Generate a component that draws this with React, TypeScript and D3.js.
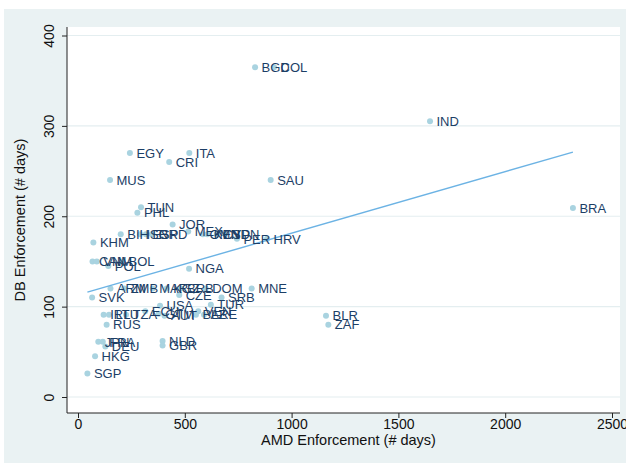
import React, { useEffect, useRef } from "react";
import * as d3 from "d3";

// country codes and the two enforcement measures (days)
const codes = [
  "BGD", "COL", "IND", "ITA", "EGY", "CRI", "MUS", "SAU", "BRA",
  "TUN", "PHL", "JOR", "BIH", "ISR", "ESP", "GRD", "MEX", "OMN", "KEN", "CYP", "SDN",
  "PER", "HRV", "KHM", "CAN", "VNM", "BOL", "POL", "NGA",
  "ARM", "ZMB", "MAR", "KGZ", "BRB", "DOM", "MNE", "CZE", "SRB", "SVK",
  "USA", "TUR", "VEN", "IRL", "LTU", "TZA", "ECU", "GTM", "AUT", "BLZ", "ARE", "RUS",
  "BLR", "ZAF", "NLD", "GBR", "JPN", "FRA", "DEU", "HKG", "SGP",
];
const amd = [
  829, 918, 1648, 521, 243, 427, 150, 902, 2317,
  295, 278, 443, 200, 290, 318, 346, 516, 585, 605, 650, 690,
  744, 885, 72, 68, 88, 206, 142, 520,
  152, 216, 350, 415, 480, 598, 813, 474, 672, 66,
  384, 622, 563, 120, 145, 225, 315, 378, 405, 552, 590, 134,
  1161, 1172, 396, 396, 95, 116, 128, 80, 44,
];
const db = [
  365, 365, 305, 270, 270, 260, 240, 240, 209,
  210, 204, 191, 180, 180, 180, 180, 183, 180, 180, 180, 180,
  175, 175, 171, 150, 150, 150, 145, 142,
  120, 120, 120, 120, 120, 120, 120, 113, 110, 110,
  101, 102, 95, 91, 91, 91, 95, 92, 90, 91, 91, 80,
  90, 80, 62, 57, 61, 61, 56, 45, 26,
];

// fitted line end points
const fitX = [44, 2317];
const fitY = [116, 271];

const xTicks = [0, 500, 1000, 1500, 2000, 2500];
const yTicks = [0, 100, 200, 300, 400];

export default function App() {
  const ref = useRef<SVGSVGElement>(null);

  useEffect(() => {
    const svg = d3.select(ref.current);
    svg.selectAll("*").remove();

    const W = 626, H = 466;
    const left = 67, right = 620, top = 27, bottom = 413;
    const font = "Liberation Sans, Arial, sans-serif";

    const x = d3.scaleLinear().domain([0, 2500]).range([78, 612]);
    const y = d3.scaleLinear().domain([0, 400]).range([397, 35.5]);

    // outer background + plot area
    svg.append("rect").attr("x", 4).attr("y", 9).attr("width", W - 4).attr("height", H - 12)
      .attr("fill", "#eaf2f3");
    svg.append("rect").attr("x", left).attr("y", top).attr("width", right - left)
      .attr("height", bottom - top).attr("fill", "#ffffff");

    // grid lines
    svg.selectAll(".grid").data(yTicks).join("line")
      .attr("x1", left).attr("x2", right)
      .attr("y1", (d) => y(d)).attr("y2", (d) => y(d))
      .attr("stroke", "#e4eef0").attr("stroke-width", 1.2);

    // y axis
    const yAxis = svg.append("g").attr("transform", `translate(${left},0)`)
      .call(d3.axisLeft(y).tickValues(yTicks).tickSize(5).tickSizeOuter(0).tickFormat(d3.format("d")));
    yAxis.select(".domain").attr("d", `M0,${top}V${bottom}`).attr("stroke", "#222");
    yAxis.selectAll(".tick line").attr("stroke", "#222");
    yAxis.selectAll(".tick text")
      .attr("transform", "rotate(-90)")
      .attr("x", 0).attr("y", -13)
      .attr("dy", 0)
      .attr("text-anchor", "middle")
      .attr("font-family", font)
      .attr("font-size", 14).attr("fill", "#111");

    // x axis
    const xAxis = svg.append("g").attr("transform", `translate(0,${bottom})`)
      .call(d3.axisBottom(x).tickValues(xTicks).tickSize(5).tickSizeOuter(0).tickFormat(d3.format("d")));
    xAxis.select(".domain").attr("d", `M${left},0H${right}`).attr("stroke", "#222");
    xAxis.selectAll(".tick line").attr("stroke", "#222");
    xAxis.selectAll(".tick text")
      .attr("y", 6).attr("dy", "0.71em")
      .attr("font-family", font)
      .attr("font-size", 14).attr("fill", "#111");

    // axis titles
    svg.append("text").attr("x", (left + right) / 2 + 5).attr("y", 445)
      .attr("text-anchor", "middle")
      .attr("font-family", font).attr("font-size", 14.5)
      .attr("fill", "#111").text("AMD Enforcement (# days)");
    svg.append("text")
      .attr("transform", `translate(25,${(top + bottom) / 2}) rotate(-90)`)
      .attr("text-anchor", "middle")
      .attr("font-family", font).attr("font-size", 14.5)
      .attr("fill", "#111").text("DB Enforcement (# days)");

    // points
    const pts = codes.map((c, i) => ({ c, a: amd[i], b: db[i] }));
    svg.selectAll(".pt").data(pts).join("circle")
      .attr("cx", (d) => x(d.a)).attr("cy", (d) => y(d.b))
      .attr("r", 3).attr("fill", "#a9d3e0");

    // fit line
    const line = d3.line<number>().x((d, i) => x(fitX[i])).y((d) => y(d));
    svg.append("path").attr("d", line(fitY))
      .attr("stroke", "#6cb3e4").attr("stroke-width", 1.4).attr("fill", "none");

    // labels
    svg.selectAll(".lbl").data(pts).join("text")
      .attr("x", (d) => x(d.a) + 6.5).attr("y", (d) => y(d.b))
      .attr("dy", "0.36em")
      .attr("font-family", font).attr("font-size", 13)
      .attr("fill", "#1c3e66").text((d) => d.c);
  }, []);

  return (
    <svg ref={ref} width={626} height={466}
      style={{ position: "absolute", left: 0, top: 0, background: "#fff" }} />
  );
}
